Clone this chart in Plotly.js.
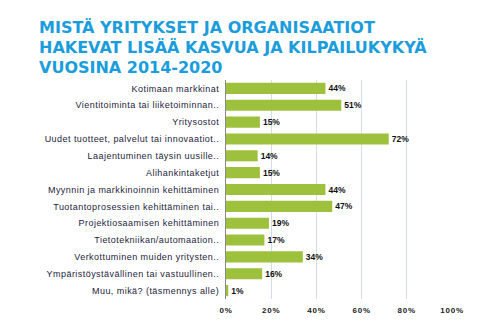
<!DOCTYPE html>
<html><head><meta charset="utf-8">
<script src="https://cdn.plot.ly/plotly-3.0.1.min.js"></script>
<style>
html,body{margin:0;padding:0;background:#fff}#chart{width:480px;height:322px}
</style>
</head><body><div id="chart"></div>
<script>
const categories = [
  "Kotimaan markkinat",
  "Vientitoiminta tai liiketoiminnan..",
  "Yritysostot",
  "Uudet tuotteet, palvelut tai innovaatiot..",
  "Laajentuminen täysin uusille..",
  "Alihankintaketjut",
  "Myynnin ja markkinoinnin kehittäminen",
  "Tuotantoprosessien kehittäminen tai..",
  "Projektiosaamisen kehittäminen",
  "Tietotekniikan/automaation..",
  "Verkottuminen muiden yritysten..",
  "Ympäristöystävällinen tai vastuullinen..",
  "Muu, mikä? (täsmennys alle)"
];
const values = [44, 51, 15, 72, 14, 15, 44, 47, 19, 17, 34, 16, 1];
const xTicks = [0, 20, 40, 60, 80, 100];
const xTickLabels = ["0%", "20%", "40%", "60%", "80%", "100%"];
const titleLines = [
  "MISTÄ YRITYKSET JA ORGANISAATIOT",
  "HAKEVAT LISÄÄ KASVUA JA KILPAILUKYKYÄ",
  "VUOSINA 2014-2020"
];

const plotTop = 79.5, plotBottom = 299.5, plotH = plotBottom - plotTop;
const titleBaselines = [34, 54, 74];
const annotations = titleLines.map((t, i) => ({
  text: "<b>" + t + "</b>", xref: "paper", yref: "paper",
  x: (36 - 225.5) / 227, xanchor: "left",
  y: (plotBottom - titleBaselines[i] - 4) / plotH, yanchor: "bottom",
  showarrow: false,
  font: {family: "DejaVu Sans", size: 16, color: "#1b9ddb"}
}));

const trace = {
  type: "bar", orientation: "h",
  x: values, y: categories,
  marker: {color: "#9dc13c", line: {width: 0}},
  width: 0.66,
  text: values.map(v => v + "%"),
  textposition: "outside",
  cliponaxis: false,
  textfont: {family: "Liberation Sans", size: 8.5, color: "#111", weight: "bold"},
  hoverinfo: "none"
};

const layout = {
  width: 480, height: 322,
  margin: {l: 225.5, r: 27.5, t: plotTop, b: 322 - plotBottom, pad: 0},
  paper_bgcolor: "#fff", plot_bgcolor: "#fff",
  showlegend: false,
  xaxis: {
    range: [0, 100], tickvals: xTicks, ticktext: xTickLabels,
    showgrid: true, gridcolor: "#d3dde9", gridwidth: 1,
    zeroline: false, showline: false, ticks: "",
    ticklabelstandoff: 5,
    tickfont: {family: "Liberation Sans", size: 8, color: "#222", weight: "bold"}
  },
  yaxis: {
    autorange: false, range: [12.5, -0.5],
    categoryorder: "array", categoryarray: categories,
    showline: true, linecolor: "#8a8a8a", linewidth: 1,
    showgrid: false, zeroline: false, ticks: "",
    ticklabelstandoff: 4,
    tickfont: {family: "Liberation Sans", size: 9, color: "#1c1c3a"}
  },
  annotations: annotations
};
Plotly.newPlot("chart", [trace], layout, {staticPlot: true, displayModeBar: false}).then(gd => {
  gd.querySelectorAll("g.ytick text").forEach(t => t.setAttribute("letter-spacing", "0.45"));
  gd.querySelectorAll("g.xtick text").forEach(t => t.setAttribute("letter-spacing", "0.8"));
});
</script></body></html>
